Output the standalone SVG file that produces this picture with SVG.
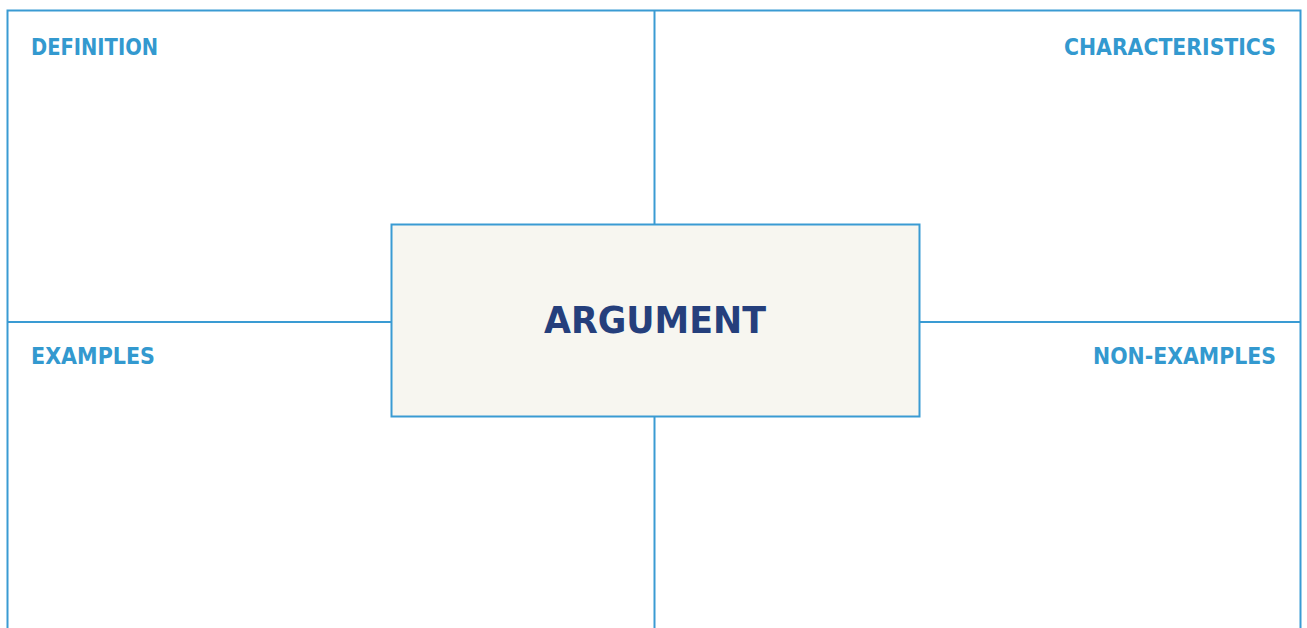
<svg xmlns="http://www.w3.org/2000/svg" width="1307" height="628" viewBox="0 0 1307 628">
<style>
.ln{stroke:#3a9bd3;stroke-width:2;fill:none}
.lbl{font-family:"DejaVu Sans Condensed","DejaVu Sans","Liberation Sans",sans-serif;font-stretch:condensed;font-weight:bold;font-size:23px;fill:#3399cf}
.ctr{font-family:"DejaVu Sans Condensed","DejaVu Sans","Liberation Sans",sans-serif;font-stretch:condensed;font-weight:bold;font-size:38px;fill:#253f7c}
</style>
<rect width="1307" height="628" fill="#ffffff"/>
<g id="connectors">
<path class="ln" d="M7.5,640 V10.5 H1300.5 V640"/>
<line class="ln" x1="654.5" y1="10" x2="654.5" y2="225"/>
<line class="ln" x1="654.5" y1="416" x2="654.5" y2="640"/>
<line class="ln" x1="7" y1="322" x2="391" y2="322"/>
<line class="ln" x1="919" y1="322" x2="1301" y2="322"/>
</g>
<g id="definition"><text class="lbl" x="31" y="55" textLength="127" lengthAdjust="spacingAndGlyphs">DEFINITION</text></g>
<g id="characteristics"><text class="lbl" x="1064" y="55" textLength="212" lengthAdjust="spacingAndGlyphs">CHARACTERISTICS</text></g>
<g id="examples"><text class="lbl" x="31" y="364" textLength="124" lengthAdjust="spacingAndGlyphs">EXAMPLES</text></g>
<g id="non-examples"><text class="lbl" x="1093" y="364" textLength="183" lengthAdjust="spacingAndGlyphs">NON-EXAMPLES</text></g>
<g id="argument">
<rect x="391.5" y="224.5" width="528" height="192" fill="#f7f6f0" stroke="#3a9bd3" stroke-width="2"/>
<text class="ctr" x="544" y="333" textLength="222" lengthAdjust="spacingAndGlyphs">ARGUMENT</text>
</g>
</svg>
